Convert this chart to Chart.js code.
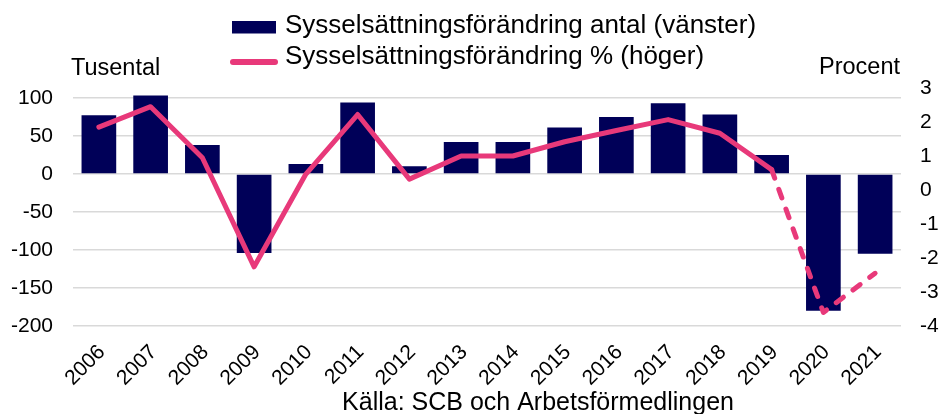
<!DOCTYPE html>
<html>
<head>
<meta charset="utf-8">
<script src="https://cdn.jsdelivr.net/npm/chart.js@4/dist/chart.umd.min.js"></script>
<style>
  html, body { margin: 0; padding: 0; background: #fff; }
</style>
</head>
<body>
<canvas id="chart" width="941" height="414"></canvas>
<script>
/* data */
const years = ["2006","2007","2008","2009","2010","2011","2012","2013","2014","2015","2016","2017","2018","2019","2020","2021"];
const antal = [77, 103, 38, -104, 13, 94, 10, 42, 42, 61, 75, 93, 78, 25, -180, -105];
const procent = [1.85, 2.45, 0.95, -2.26, 0.47, 2.22, 0.32, 1.0, 1.0, 1.42, 1.75, 2.07, 1.67, 0.6, -3.6, -2.45];
const forecastFrom = 13; // line is dashed from 2019 on

const labelAntal = "Sysselsättningsförändring antal (vänster)";
const labelProcent = "Sysselsättningsförändring % (höger)";
const leftTitle = "Tusental";
const rightTitle = "Procent";
const source = "Källa: SCB och Arbetsförmedlingen";

const navy = "#000058";
const pink = "#E8397A";
const font = "'Liberation Sans', Arial, sans-serif";

/* legend, axis titles and source text */
const textPlugin = {
  id: "texts",
  afterDraw(chart) {
    const c = chart.ctx;
    c.save();
    c.fillStyle = "#000";
    c.textBaseline = "alphabetic";

    // legend
    c.font = "26px " + font;
    c.fillStyle = navy;
    c.fillRect(232, 21, 44, 12.5);
    c.fillStyle = "#000";
    c.textAlign = "left";
    c.fillText(labelAntal, 285, 33);

    c.strokeStyle = pink;
    c.lineWidth = 6;
    c.lineCap = "round";
    c.beginPath();
    c.moveTo(233, 62);
    c.lineTo(275, 62);
    c.stroke();
    c.fillText(labelProcent, 285, 64);

    // axis titles
    c.font = "23.5px " + font;
    c.textAlign = "left";
    c.fillText(leftTitle, 71, 75);
    c.textAlign = "right";
    c.fillText(rightTitle, 900, 73.5);

    // source
    c.font = "25px " + font;
    c.textAlign = "center";
    c.fillText(source, 538, 410);
    c.restore();
  }
};

const ctx = document.getElementById("chart").getContext("2d");
new Chart(ctx, {
  data: {
    labels: years,
    datasets: [{
      type: "line",
      label: labelProcent,
      data: procent,
      yAxisID: "yR",
      borderColor: pink,
      borderWidth: 5,
      borderCapStyle: "round",
      borderJoinStyle: "round",
      pointRadius: 0,
      tension: 0,
      order: 0,
      segment: {
        borderDash: (s) => s.p0DataIndex >= forecastFrom ? [9, 12] : undefined
      }
    }, {
      type: "bar",
      label: labelAntal,
      data: antal,
      yAxisID: "yL",
      backgroundColor: navy,
      categoryPercentage: 1,
      barPercentage: 0.67,
      order: 1
    }]
  },
  options: {
    responsive: false,
    animation: false,
    devicePixelRatio: 1,
    layout: { padding: { top: 88, left: 0, right: 0, bottom: 0 } },
    plugins: {
      legend: { display: false },
      title: { display: false },
      tooltip: { enabled: false }
    },
    scales: {
      x: {
        grid: { display: false, drawTicks: false },
        border: { display: false },
        ticks: {
          autoSkip: false,
          minRotation: 45,
          maxRotation: 45,
          padding: 14,
          labelOffset: 3,
          color: "#000",
          font: { family: font, size: 21 }
        },
        afterFit(s) { s.height = 88; }
      },
      yL: {
        position: "left",
        min: -200,
        max: 113,
        border: { display: false },
        grid: { color: "#D9D9D9", lineWidth: 1.5, drawTicks: false },
        ticks: {
          stepSize: 50,
          includeBounds: false,
          padding: 20,
          color: "#000",
          font: { family: font, size: 21 }
        },
        afterFit(s) { s.width = 73; }
      },
      yR: {
        position: "right",
        min: -4,
        max: 3,
        border: { display: false },
        grid: { display: false, drawTicks: false },
        ticks: {
          stepSize: 1,
          padding: 19,
          color: "#000",
          font: { family: font, size: 21 }
        },
        afterFit(s) { s.width = 40; }
      }
    }
  },
  plugins: [textPlugin]
});
</script>
</body>
</html>
